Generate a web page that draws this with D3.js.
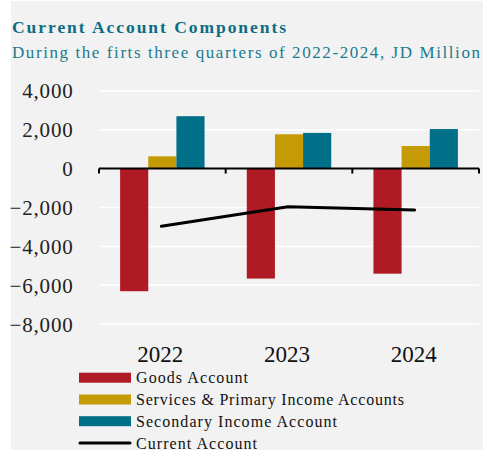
<!DOCTYPE html>
<html>
<head>
<meta charset="utf-8">
<script src="https://cdn.jsdelivr.net/npm/d3@7/dist/d3.min.js"></script>
<style>
  html, body { margin: 0; padding: 0; background: #ffffff; }
  svg { display: block; }
</style>
</head>
<body>
<svg id="chart" width="483" height="450"></svg>
<script>
// Current account components, JD million (first three quarters of each year)
const years = ["2022", "2023", "2024"];
const goodsAccount = [-6300, -5650, -5400];
const servicesPrimaryIncome = [630, 1760, 1160];
const secondaryIncome = [2690, 1830, 2030];
const currentAccount = [-2960, -1960, -2130];
const yTicks = [4000, 2000, 0, -2000, -4000, -6000, -8000];

const seriesNames = ["Goods Account", "Services & Primary Income Accounts", "Secondary Income Account"];
const seriesColors = ["#b01a25", "#c49a05", "#006f88"];
const barSeries = [goodsAccount, servicesPrimaryIncome, secondaryIncome];

const FONT = '"Liberation Serif", "Times New Roman", serif';
const svg = d3.select("#chart");

// panel background
svg.append("rect").attr("x", 11).attr("y", 1).attr("width", 472).attr("height", 449).attr("fill", "#f2f2f2");

// titles
svg.append("text")
  .attr("x", 12).attr("y", 33)
  .style("font-family", FONT).style("font-size", "17.5px").style("font-weight", "bold")
  .attr("fill", "#0b6d84")
  .attr("textLength", 274).attr("lengthAdjust", "spacing")
  .text("Current Account Components");
svg.append("text")
  .attr("x", 12).attr("y", 58)
  .style("font-family", FONT).style("font-size", "17px")
  .attr("fill", "#1b7a8f")
  .attr("textLength", 468).attr("lengthAdjust", "spacing")
  .text("During the firts three quarters of 2022-2024, JD Million");

// scales
const x = d3.scaleBand().domain(years).range([99, 479]).paddingInner(0).paddingOuter(0);
const y = d3.scaleLinear().domain([-8000, 4000]).range([324.3, 90.7]);
const sub = d3.scaleBand().domain(d3.range(3)).range([0, x.bandwidth()]).paddingOuter(0.75).paddingInner(0);

// gridlines
svg.append("g").selectAll("line").data(yTicks.filter(d => d !== 0)).join("line")
  .attr("x1", 99).attr("x2", 479)
  .attr("y1", d => y(d)).attr("y2", d => y(d))
  .attr("stroke", "#ffffff").attr("stroke-width", 1.5);

// y tick labels
const yAxis = d3.axisLeft(y).tickValues(yTicks).tickFormat(d3.format(",")).tickSize(0).tickPadding(0);
const gy = svg.append("g").attr("transform", "translate(73.5,0)").call(yAxis);
gy.select(".domain").remove();
gy.selectAll("text")
  .style("font-family", FONT).style("font-size", "21px")
  .attr("fill", "#222")
  .attr("letter-spacing", 0.8)
  .attr("dy", "0.34em");

// bars
barSeries.forEach((vals, i) => {
  svg.append("g").selectAll("rect").data(vals).join("rect")
    .attr("x", (d, j) => x(years[j]) + sub(i))
    .attr("width", sub.bandwidth())
    .attr("y", d => y(Math.max(0, d)))
    .attr("height", d => Math.abs(y(d) - y(0)))
    .attr("fill", seriesColors[i]);
});

// category axis along zero, with tick marks between groups
svg.append("line").attr("x1", 99).attr("x2", 479).attr("y1", y(0)).attr("y2", y(0))
  .attr("stroke", "#000").attr("stroke-width", 2);
const tickPos = years.map(d => x(d)).concat([x.range()[1]]);
svg.append("g").selectAll("line").data(tickPos).join("line")
  .attr("x1", d => d).attr("x2", d => d)
  .attr("y1", y(0)).attr("y2", y(0) + 5)
  .attr("stroke", "#000").attr("stroke-width", 2);

// year labels
svg.append("g").selectAll("text").data(years).join("text")
  .attr("x", d => x(d) + x.bandwidth() / 2 - 2)
  .attr("y", 362)
  .attr("text-anchor", "middle")
  .style("font-family", FONT).style("font-size", "23px")
  .attr("fill", "#111")
  .text(d => d);

// current account line
const line = d3.line().x((d, i) => x(years[i]) + x.bandwidth() / 2 - 1).y(d => y(d));
svg.append("path").datum(currentAccount)
  .attr("d", line)
  .attr("fill", "none").attr("stroke", "#000").attr("stroke-width", 3)
  .attr("stroke-linecap", "round").attr("stroke-linejoin", "round");

// legend
const legendItems = seriesNames.map((n, i) => ({ name: n, color: seriesColors[i], type: "bar" }))
  .concat([{ name: "Current Account", color: "#000", type: "line" }]);
const rowY = [377.7, 399.5, 421.2, 443];
const labelWidths = [112, 268, 201, 121];
const lg = svg.append("g");
legendItems.forEach((it, i) => {
  if (it.type === "bar") {
    lg.append("rect").attr("x", 79).attr("y", rowY[i] - 5).attr("width", 52).attr("height", 10).attr("fill", it.color);
  } else {
    lg.append("line").attr("x1", 80).attr("x2", 130).attr("y1", rowY[i]).attr("y2", rowY[i])
      .attr("stroke", it.color).attr("stroke-width", 3).attr("stroke-linecap", "round");
  }
  lg.append("text")
    .attr("x", 136).attr("y", rowY[i] + 5.5)
    .style("font-family", FONT).style("font-size", "16px")
    .attr("fill", "#111")
    .attr("textLength", labelWidths[i]).attr("lengthAdjust", "spacing")
    .text(it.name);
});
</script>
</body>
</html>
